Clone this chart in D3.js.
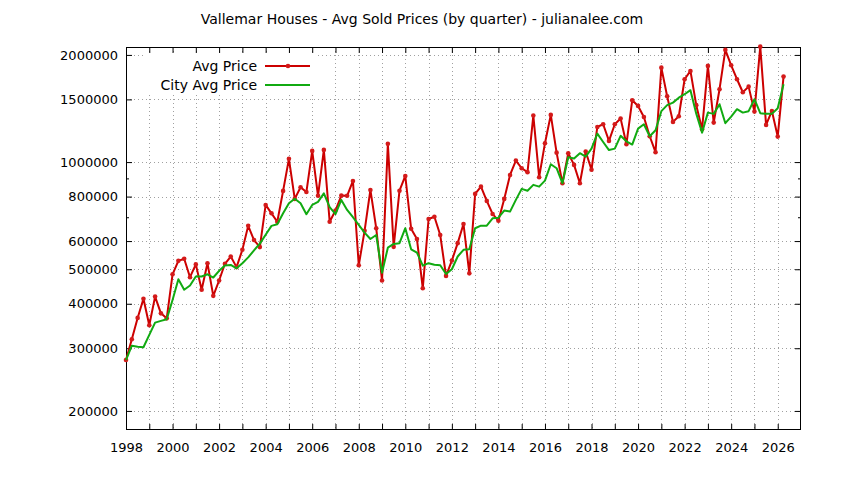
<!DOCTYPE html>
<html>
<head>
<meta charset="utf-8">
<script src="https://cdn.jsdelivr.net/npm/d3@7"></script>
<style>
  html, body { margin: 0; padding: 0; background: #fff; }
  svg { display: block; }
  text { font-family: "DejaVu Sans", sans-serif; fill: #000; }
</style>
</head>
<body>
<svg id="chart" width="844" height="480"></svg>
<script>
const chartTitle = "Vallemar Houses - Avg Sold Prices (by quarter) - julianalee.com";
const startYear = 1998;            // first quarter 1998 Q1, one value per quarter
const seriesNames = ["Avg Price", "City Avg Price"];

const avgPrice = [
  278000, 318000, 365000, 413000, 348000, 419000, 376000, 364000,
  484000, 528000, 535000, 475000, 516000, 438000, 520000, 421000,
  465000, 518000, 543000, 507000, 567000, 662000, 604000, 577000,
  758000, 718000, 680000, 830000, 1021000, 788000, 850000, 824000,
  1075000, 804000, 1082000, 680000, 731000, 805000, 804000, 885000,
  513000, 641000, 835000, 652000, 465000, 1125000, 578000, 831000,
  914000, 650000, 608000, 442000, 692000, 702000, 624000, 479000,
  529000, 592000, 670000, 487000, 814000, 853000, 778000, 715000,
  684000, 788000, 920000, 1010000, 961000, 937000, 1351000, 907000,
  1130000, 1357000, 1063000, 872000, 1059000, 982000, 872000, 1070000,
  952000, 1255000, 1277000, 1147000, 1277000, 1325000, 1123000, 1492000,
  1438000, 1339000, 1182000, 1066000, 1842000, 1531000, 1297000, 1345000,
  1709000, 1803000, 1445000, 1237000, 1863000, 1291000, 1602000, 2066000,
  1870000, 1709000, 1571000, 1629000, 1386000, 2110000, 1272000, 1392000,
  1179000, 1738000
];

const cityAvgPrice = [
  278000, 305000, 303000, 302000, 327000, 354000, 358000, 362000,
  410000, 469000, 438000, 450000, 477000, 477000, 484000, 474000,
  495000, 512000, 514000, 503000, 520000, 540000, 565000, 590000,
  625000, 662000, 669000, 718000, 766000, 789000, 766000, 714000,
  758000, 773000, 817000, 747000, 714000, 783000, 734000, 700000,
  666000, 634000, 608000, 624000, 489000, 575000, 589000, 592000,
  652000, 569000, 557000, 512000, 520000, 515000, 513000, 485000,
  500000, 543000, 567000, 569000, 652000, 663000, 663000, 695000,
  698000, 731000, 726000, 783000, 841000, 831000, 863000, 853000,
  887000, 986000, 961000, 872000, 1032000, 1023000, 1059000, 1036000,
  1091000, 1202000, 1139000, 1081000, 1091000, 1185000, 1144000, 1120000,
  1242000, 1277000, 1182000, 1229000, 1390000, 1445000, 1469000, 1517000,
  1551000, 1592000, 1368000, 1210000, 1377000, 1366000, 1454000, 1286000,
  1342000, 1408000, 1377000, 1390000, 1502000, 1372000, 1366000, 1366000,
  1417000, 1655000
];

const yTickValues = [200000, 300000, 400000, 500000, 600000, 800000, 1000000, 1500000, 2000000];
const yMinorTicks = [700000, 900000];
const xTickYears = d3.range(1998, 2027);          // tick every year
const xLabelYears = d3.range(1998, 2027, 2);      // label every 2 years

const times = avgPrice.map((_, i) => startYear + i / 4);

const svg = d3.select("#chart");
const pL = 126, pR = 801, pT = 47, pB = 430;

const x = d3.scaleLinear().domain([1998, 2027]).range([pL, pR]);
const y = d3.scaleLog().domain([176800, 2105000]).range([pB, pT]);

// title
svg.append("text").attr("x", 422).attr("y", 24).attr("text-anchor", "middle")
  .style("font-size", "14px").text(chartTitle);

// grid
const gridColor = "#a0a0a0";
const gGrid = svg.append("g");
gGrid.selectAll("line.gy").data(yTickValues).join("line")
  .attr("x1", pL).attr("x2", pR)
  .attr("y1", d => Math.round(y(d)) + 0.5).attr("y2", d => Math.round(y(d)) + 0.5)
  .attr("stroke", gridColor).attr("stroke-dasharray", "1,3");
gGrid.selectAll("line.gx").data(xTickYears.filter(d => d > 1998)).join("line")
  .attr("y1", pT).attr("y2", pB)
  .attr("x1", d => Math.round(x(d)) + 0.5).attr("x2", d => Math.round(x(d)) + 0.5)
  .attr("stroke", gridColor).attr("stroke-dasharray", "1,3");

// opaque key box (covers grid behind the legend)
svg.append("rect").attr("x", 146).attr("y", 52).attr("width", 170).attr("height", 43)
  .attr("fill", "#fff");

// axes
const fmt = d => String(d);
const axL = svg.append("g").attr("transform", `translate(${pL},0)`)
  .call(d3.axisLeft(y).tickValues(yTickValues).tickFormat(fmt).tickSizeInner(-6).tickSizeOuter(0).tickPadding(8));
const axR = svg.append("g").attr("transform", `translate(${pR},0)`)
  .call(d3.axisRight(y).tickValues(yTickValues).tickFormat("").tickSizeInner(-6).tickSizeOuter(0));
const axLm = svg.append("g").attr("transform", `translate(${pL},0)`)
  .call(d3.axisLeft(y).tickValues(yMinorTicks).tickFormat("").tickSizeInner(-3).tickSizeOuter(0));
const axRm = svg.append("g").attr("transform", `translate(${pR},0)`)
  .call(d3.axisRight(y).tickValues(yMinorTicks).tickFormat("").tickSizeInner(-3).tickSizeOuter(0));
const axB = svg.append("g").attr("transform", `translate(0,${pB})`)
  .call(d3.axisBottom(x).tickValues(xTickYears).tickFormat(d => xLabelYears.includes(d) ? String(d) : "")
    .tickSizeInner(-6).tickSizeOuter(0).tickPadding(13));
const axT = svg.append("g").attr("transform", `translate(0,${pT})`)
  .call(d3.axisTop(x).tickValues(xTickYears).tickFormat("").tickSizeInner(-6).tickSizeOuter(0));
[axL, axR, axLm, axRm, axB, axT].forEach(g => {
  g.select(".domain").remove();
  g.selectAll("line").attr("stroke", "#000");
  g.selectAll("text").style("font-size", "13px").attr("fill", "#000");
});

// frame
svg.append("rect").attr("x", pL + 0.5).attr("y", pT + 0.5)
  .attr("width", pR - pL - 1).attr("height", pB - pT - 1)
  .attr("fill", "none").attr("stroke", "#000");

const redColor = "#cc0000", greenColor = "#11aa11", markColor = "#d41a1a";
const line = d3.line().x((d, i) => x(times[i])).y(d => y(d));

svg.append("path").datum(avgPrice).attr("d", line)
  .attr("fill", "none").attr("stroke", redColor).attr("stroke-width", 2).attr("stroke-linejoin", "round");
svg.append("g").selectAll("circle").data(avgPrice).join("circle")
  .attr("cx", (d, i) => x(times[i])).attr("cy", d => y(d)).attr("r", 2.3)
  .attr("fill", markColor);
svg.append("path").datum(cityAvgPrice).attr("d", line)
  .attr("fill", "none").attr("stroke", greenColor).attr("stroke-width", 2).attr("stroke-linejoin", "round");

// legend
const leg = svg.append("g");
const legRows = [{name: seriesNames[0], color: redColor, marker: true, yy: 66},
                 {name: seriesNames[1], color: greenColor, marker: false, yy: 85}];
legRows.forEach(r => {
  leg.append("text").attr("x", 257).attr("y", r.yy + 5).attr("text-anchor", "end")
    .style("font-size", "14px").text(r.name);
  leg.append("line").attr("x1", 265).attr("x2", 310).attr("y1", r.yy).attr("y2", r.yy)
    .attr("stroke", r.color).attr("stroke-width", 2);
  if (r.marker) leg.append("circle").attr("cx", 288).attr("cy", r.yy).attr("r", 2.3).attr("fill", markColor);
});
</script>
</body>
</html>
